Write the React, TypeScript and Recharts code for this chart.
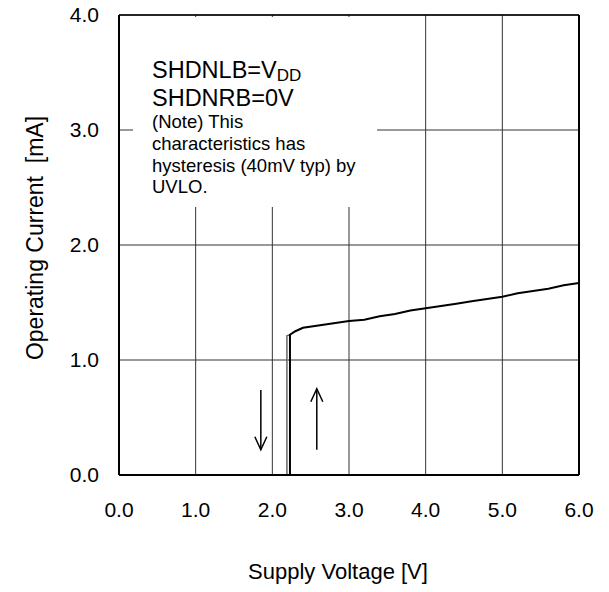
import React from "react";
import {
  LineChart,
  Line,
  XAxis,
  YAxis,
  CartesianGrid,
  ReferenceLine,
} from "recharts";

// axis ticks
const voltageTicks = [0, 1, 2, 3, 4, 5, 6];
const currentTicks = [0, 1, 2, 3, 4];

// rising sweep (VDD going up)
const risingVoltage = [
  2.23, 2.23, 2.3, 2.4, 2.6, 2.8, 3.0, 3.2, 3.4, 3.6, 3.8, 4.0, 4.2, 4.4, 4.6,
  4.8, 5.0, 5.2, 5.4, 5.6, 5.8, 6.0,
];
const risingCurrent = [
  0, 1.22, 1.25, 1.28, 1.3, 1.32, 1.34, 1.35, 1.38, 1.4, 1.43, 1.45, 1.47,
  1.49, 1.51, 1.53, 1.55, 1.58, 1.6, 1.62, 1.65, 1.67,
];

// falling sweep (VDD going down)
const fallingVoltage = [2.23, 2.19, 2.19];
const fallingCurrent = [1.22, 1.21, 0];

// direction arrows
const downArrowVoltage = [1.85, 1.85];
const downArrowCurrent = [0.74, 0.22];
const upArrowVoltage = [2.58, 2.58];
const upArrowCurrent = [0.22, 0.75];

const toPoints = (xs: number[], ys: number[]) =>
  xs.map((v, k) => ({ v, i: ys[k] }));

const rising = toPoints(risingVoltage, risingCurrent);
const falling = toPoints(fallingVoltage, fallingCurrent);
const downArrow = toPoints(downArrowVoltage, downArrowCurrent);
const upArrow = toPoints(upArrowVoltage, upArrowCurrent);

const FONT = "'Liberation Sans', Arial, sans-serif";

const arrowHead = (pointsDown: boolean) => (props: any) => {
  const { cx, cy, index, points } = props;
  if (index !== points.length - 1) return <g key={`n-${index}`} />;
  const back = pointsDown ? cy - 13 : cy + 13;
  return (
    <polyline
      key={`h-${index}`}
      points={`${cx - 6},${back} ${cx},${cy} ${cx + 6},${back}`}
      fill="none"
      stroke="#000"
      strokeWidth={1.5}
    />
  );
};

const fmt = (t: number) => t.toFixed(1);

export default function App() {
  return (
    <div style={{ position: "absolute", left: 0, top: 0, width: 609, height: 592, background: "#fff" }}>
      <LineChart
        width={609}
        height={592}
        margin={{ top: 15, right: 30, bottom: 0, left: 0 }}
        style={{ fontFamily: FONT }}
      >
        <CartesianGrid stroke="#333" strokeWidth={1} />
        <XAxis
          dataKey="v"
          type="number"
          domain={[0, 6]}
          ticks={voltageTicks}
          tickFormatter={fmt}
          height={117}
          tickLine={false}
          tickSize={0}
          tickMargin={27}
          axisLine={{ stroke: "#000", strokeWidth: 2 }}
          tick={{ fill: "#000", fontSize: 21, fontFamily: FONT }}
          allowDuplicatedCategory={false}
        />
        <YAxis
          type="number"
          domain={[0, 4]}
          ticks={currentTicks}
          tickFormatter={fmt}
          width={119}
          tickLine={false}
          tickSize={0}
          tickMargin={20}
          axisLine={{ stroke: "#000", strokeWidth: 2 }}
          tick={{ fill: "#000", fontSize: 21, fontFamily: FONT }}
        />
        <ReferenceLine y={4} stroke="#000" strokeWidth={1.5} />
        <ReferenceLine x={6} stroke="#000" strokeWidth={2} />
        <Line
          data={falling}
          dataKey="i"
          type="linear"
          stroke="#666"
          strokeWidth={1.5}
          dot={false}
          activeDot={false}
          isAnimationActive={false}
        />
        <Line
          data={rising}
          dataKey="i"
          type="linear"
          stroke="#000"
          strokeWidth={2}
          dot={false}
          activeDot={false}
          isAnimationActive={false}
        />
        <Line
          data={downArrow}
          dataKey="i"
          type="linear"
          stroke="#000"
          strokeWidth={1.5}
          dot={arrowHead(true)}
          activeDot={false}
          isAnimationActive={false}
        />
        <Line
          data={upArrow}
          dataKey="i"
          type="linear"
          stroke="#000"
          strokeWidth={1.5}
          dot={arrowHead(false)}
          activeDot={false}
          isAnimationActive={false}
        />
      </LineChart>
      <svg
        width={609}
        height={592}
        style={{ position: "absolute", left: 0, top: 0, pointerEvents: "none" }}
        fontFamily={FONT}
      >
        <rect x={133} y={17} width={244} height={190} fill="#fff" />
        <text x={152} y={78} fontSize={23.5} fill="#000">
          SHDNLB=V
          <tspan fontSize={17} dy={3}>DD</tspan>
        </text>
        <text x={152} y={106} fontSize={23.5} fill="#000">SHDNRB=0V</text>
        <text fontSize={18.5} fill="#000">
          <tspan x={152} y={128}>(Note) This</tspan>
          <tspan x={152} y={150}>characteristics has</tspan>
          <tspan x={152} y={172}>hysteresis (40mV typ) by</tspan>
          <tspan x={152} y={193}>UVLO.</tspan>
        </text>
        <text x={338} y={579} fontSize={22} textAnchor="middle" fill="#000">
          Supply Voltage [V]
        </text>
        <text
          transform="translate(43,238) rotate(-90)"
          fontSize={23}
          textAnchor="middle"
          fill="#000"
        >
          {"Operating Current\u00a0 [mA]"}
        </text>
      </svg>
    </div>
  );
}
